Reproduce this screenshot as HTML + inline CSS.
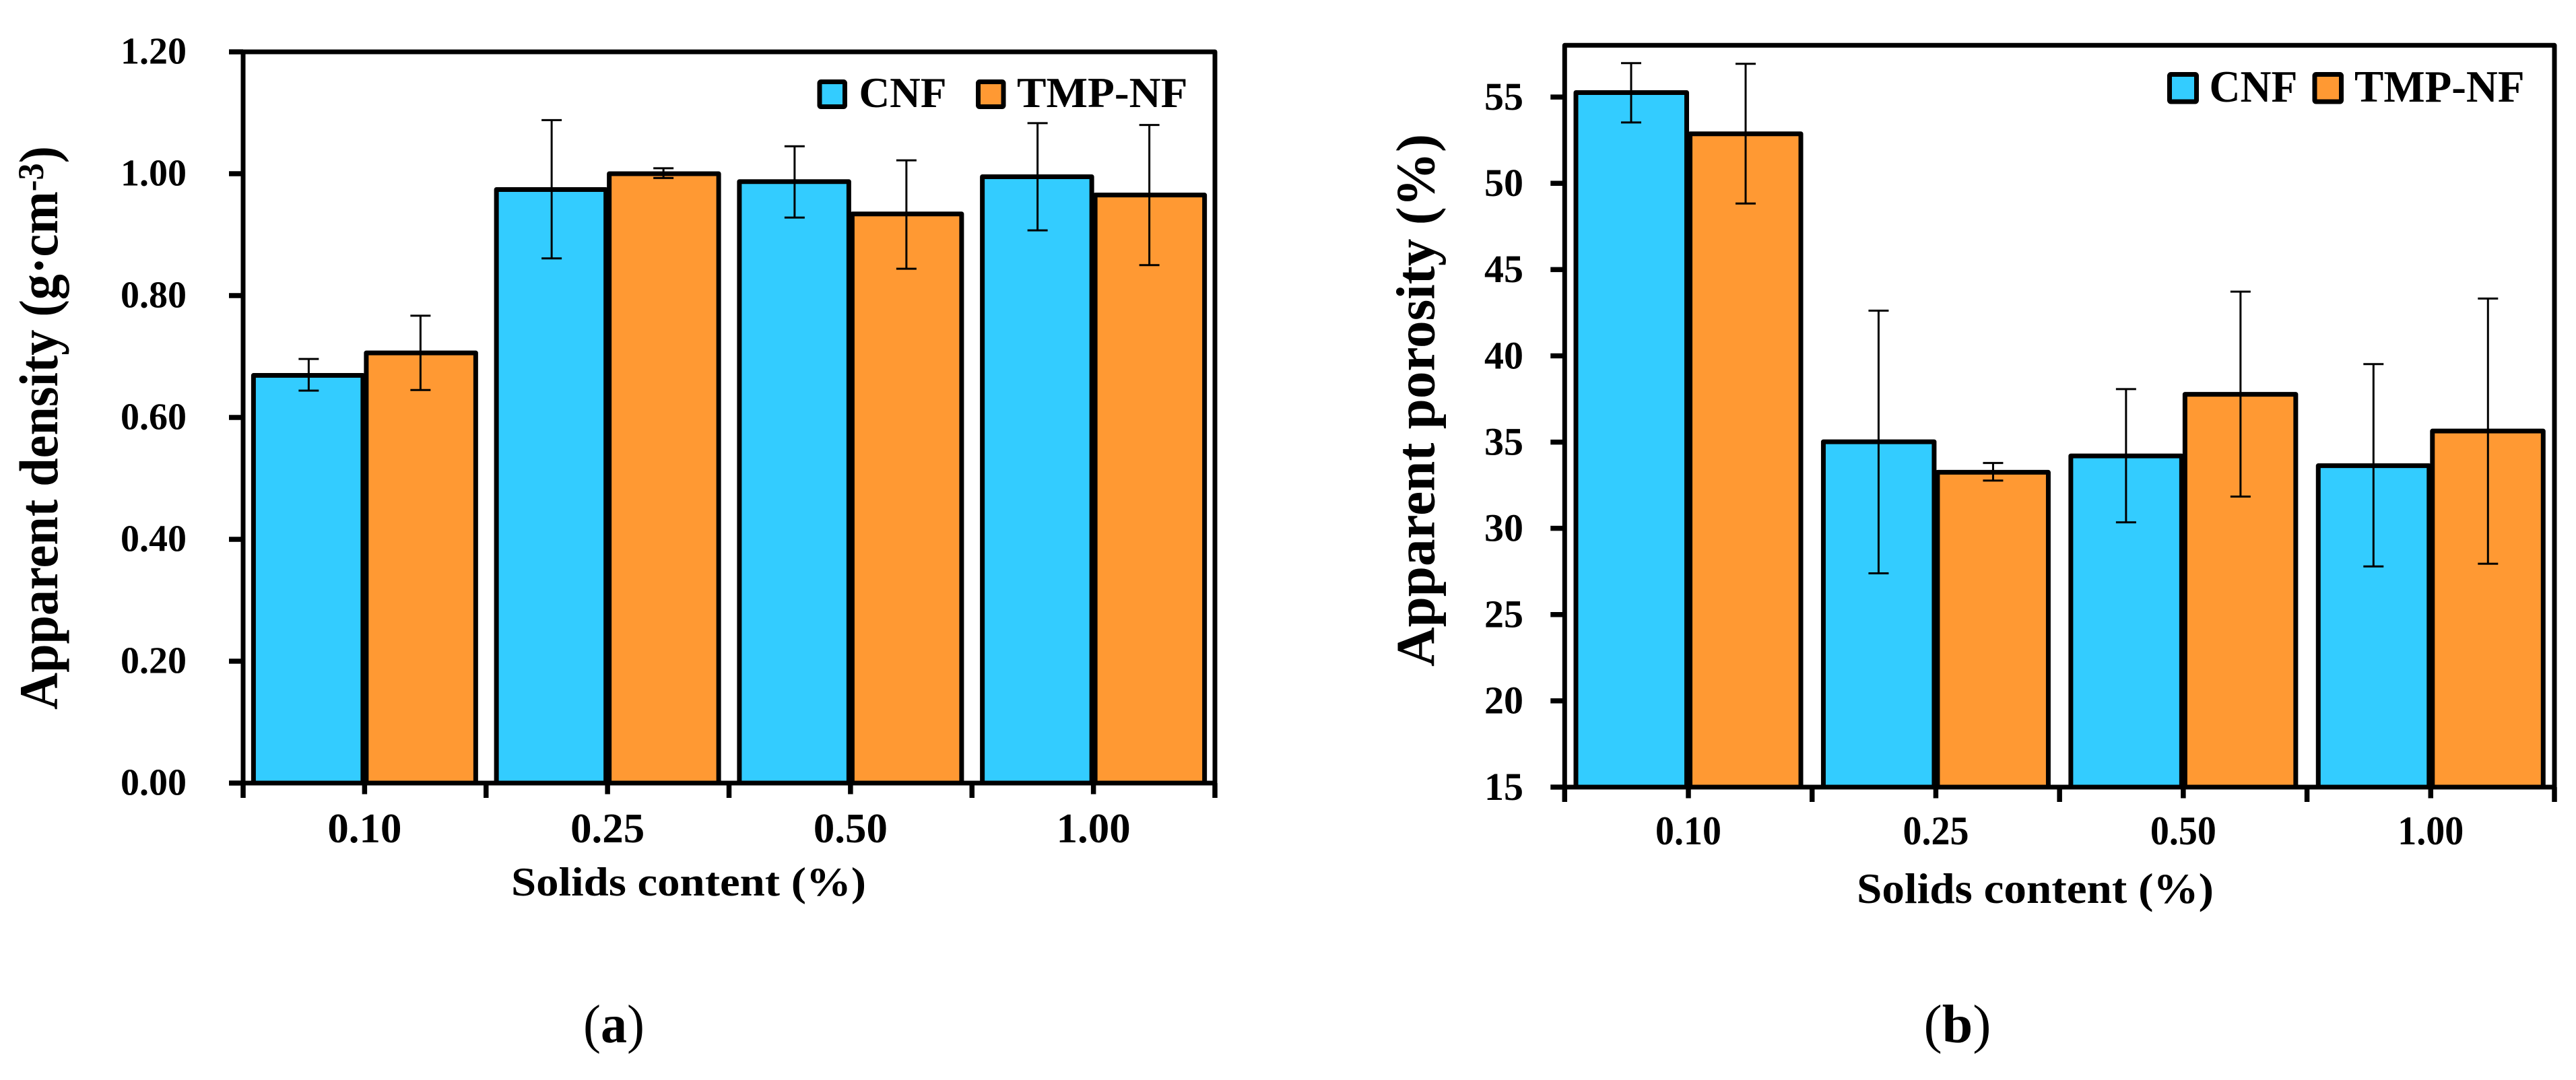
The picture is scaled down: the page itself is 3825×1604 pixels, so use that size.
<!DOCTYPE html>
<html lang="en">
<head>
<meta charset="utf-8">
<title>Apparent density and porosity vs solids content</title>
<style>
  html, body { margin: 0; padding: 0; background: #fff; }
  svg { display: block; }
  text { font-family: "Liberation Serif", serif; font-weight: bold; fill: #000; }
  .caption-paren { font-weight: normal; }
</style>
</head>
<body>
<svg id="figure" xmlns="http://www.w3.org/2000/svg" width="3825" height="1604" viewBox="0 0 3825 1604">
  <rect x="0" y="0" width="3825" height="1604" fill="#ffffff"/>

  <g id="panel-a"></g>
  <g id="panel-b"></g>

  <text transform="translate(85,1054) rotate(-90)" font-size="82" textLength="837" lengthAdjust="spacingAndGlyphs">Apparent density (g·cm<tspan font-size="54" dy="-21">-3</tspan><tspan dy="21">)</tspan></text>
  <text x="759" y="1330" font-size="60" textLength="527" lengthAdjust="spacingAndGlyphs">Solids content (%)</text>
  <text x="866" y="1548" font-size="80" textLength="91" lengthAdjust="spacingAndGlyphs"><tspan class="caption-paren">(</tspan>a<tspan class="caption-paren">)</tspan></text>

  <g>
    <rect x="1217" y="121.5" width="37.5" height="37" rx="2" fill="#33CCFF" stroke="#000" stroke-width="7" stroke-linejoin="round"/>
    <text x="1275.5" y="159" font-size="63" textLength="130" lengthAdjust="spacingAndGlyphs">CNF</text>
    <rect x="1452.5" y="121.5" width="37.5" height="37" rx="2" fill="#FF9933" stroke="#000" stroke-width="7" stroke-linejoin="round"/>
    <text x="1510" y="159" font-size="63" textLength="253.5" lengthAdjust="spacingAndGlyphs">TMP-NF</text>
  </g>

  <text transform="translate(2129.5,990) rotate(-90)" font-size="82" textLength="791" lengthAdjust="spacingAndGlyphs">Apparent porosity (%)</text>
  <text x="2757" y="1341" font-size="63" textLength="530" lengthAdjust="spacingAndGlyphs">Solids content (%)</text>
  <text x="2856.5" y="1548" font-size="80" textLength="100" lengthAdjust="spacingAndGlyphs"><tspan class="caption-paren">(</tspan>b<tspan class="caption-paren">)</tspan></text>

  <g>
    <rect x="3221.5" y="110.5" width="40" height="40.5" rx="2" fill="#33CCFF" stroke="#000" stroke-width="7" stroke-linejoin="round"/>
    <text x="3280.5" y="151" font-size="67" textLength="131" lengthAdjust="spacingAndGlyphs">CNF</text>
    <rect x="3437" y="110.5" width="39.5" height="40.5" rx="2" fill="#FF9933" stroke="#000" stroke-width="7" stroke-linejoin="round"/>
    <text x="3496" y="151" font-size="67" textLength="252.5" lengthAdjust="spacingAndGlyphs">TMP-NF</text>
  </g>
</svg>

<script>
// Shared categories
const categories = ['0.10', '0.25', '0.50', '1.00'];

// Panel (a): apparent density
const densityTickLabels = ['0.00', '0.20', '0.40', '0.60', '0.80', '1.00', '1.20'];
const densityCnf = [0.669, 0.974, 0.987, 0.995];
const densityTmp = [0.706, 1.000, 0.934, 0.965];
const densityCnfHigh = [0.696, 1.088, 1.045, 1.083];
const densityCnfLow = [0.644, 0.861, 0.928, 0.907];
const densityTmpHigh = [0.767, 1.009, 1.022, 1.080];
const densityTmpLow = [0.645, 0.993, 0.844, 0.850];

// Panel (b): apparent porosity
const porosityTickLabels = ['15', '20', '25', '30', '35', '40', '45', '50', '55'];
const porosityCnf = [55.26, 35.02, 34.20, 33.63];
const porosityTmp = [52.87, 33.25, 37.77, 35.64];
const porosityCnfHigh = [56.97, 42.62, 38.07, 39.52];
const porosityCnfLow = [53.53, 27.39, 30.35, 27.79];
const porosityTmpHigh = [56.93, 33.79, 43.72, 43.32];
const porosityTmpLow = [48.83, 32.77, 31.84, 27.95];

const SVG_NS = 'http://www.w3.org/2000/svg';

function make(tag, attrs, parent) {
  const node = document.createElementNS(SVG_NS, tag);
  for (const key in attrs) node.setAttribute(key, attrs[key]);
  parent.appendChild(node);
  return node;
}

function drawPanel(root, cfg) {
  const yScale = v => cfg.bottom - (v - cfg.yMin) / (cfg.yMax - cfg.yMin) * (cfg.bottom - cfg.top);
  const groupW = (cfg.right - cfg.left) / cfg.categories.length;
  const center = i => cfg.left + groupW * (i + 0.5);

  // bars
  const series = [
    { key: 'cnf', values: cfg.cnf, high: cfg.cnfHigh, low: cfg.cnfLow, color: '#33CCFF', side: -1 },
    { key: 'tmp-nf', values: cfg.tmp, high: cfg.tmpHigh, low: cfg.tmpLow, color: '#FF9933', side: 1 }
  ];
  series.forEach(s => {
    s.values.forEach((v, i) => {
      const inner = center(i) + s.side * 2.5;
      const outer = center(i) + s.side * (2.5 + cfg.barW);
      const el = make('rect', {
        x: Math.min(inner, outer),
        y: yScale(v),
        width: cfg.barW,
        height: cfg.bottom - yScale(v),
        fill: s.color,
        stroke: '#000',
        'stroke-width': 7,
        'stroke-linejoin': 'round'
      }, root);
      
      
    });
  });

  // frame
  const frame = make('rect', {
    x: cfg.left, y: cfg.top,
    width: cfg.right - cfg.left, height: cfg.bottom - cfg.top,
    fill: 'none', stroke: '#000', 'stroke-width': 7, 'stroke-linejoin': 'round'
  }, root);
  
  

  // error bars
  series.forEach(s => {
    s.values.forEach((v, i) => {
      const x = center(i) + s.side * cfg.errOffset;
      const yHi = yScale(s.high[i]);
      const yLo = yScale(s.low[i]);
      const g = make('g', { stroke: '#000', 'stroke-width': 3, fill: 'none' }, root);
      
      
      make('line', { x1: x, x2: x, y1: yHi, y2: yLo }, g);
      make('line', { x1: x - 15, x2: x + 15, y1: yHi, y2: yHi }, g);
      make('line', { x1: x - 15, x2: x + 15, y1: yLo, y2: yLo }, g);
    });
  });

  // y ticks
  cfg.yTicks.forEach(label => {
    const y = yScale(parseFloat(label));
    const tick = make('line', {
      x1: cfg.left - 21, x2: cfg.left, y1: y, y2: y,
      stroke: '#000', 'stroke-width': 7.5
    }, root);
    
    
    const txt = make('text', {
      x: cfg.yLabelX, y: y + cfg.yLabelDy,
      'font-size': cfg.yLabelSize, 'text-anchor': 'end'
    }, root);
    txt.textContent = label;
    
    
  });

  // x ticks: long at group boundaries, short at group centres
  for (let i = 0; i <= cfg.categories.length; i++) {
    const x = cfg.left + groupW * i;
    const tick = make('line', {
      x1: x, x2: x, y1: cfg.bottom, y2: cfg.bottom + 22,
      stroke: '#000', 'stroke-width': 7.5
    }, root);
    
    
  }
  cfg.categories.forEach((cat, i) => {
    const tick = make('line', {
      x1: center(i), x2: center(i), y1: cfg.bottom, y2: cfg.bottom + 16.5,
      stroke: '#000', 'stroke-width': 7.5
    }, root);
    
    
    const txt = make('text', {
      x: center(i), y: cfg.xLabelY,
      'font-size': cfg.xLabelSize, 'text-anchor': 'middle',
      textLength: cfg.xLabelW, lengthAdjust: 'spacingAndGlyphs'
    }, root);
    txt.textContent = cat;
    
    
  });
}

drawPanel(document.getElementById('panel-a'), {
  categories: categories,
  cnf: densityCnf, tmp: densityTmp,
  cnfHigh: densityCnfHigh, cnfLow: densityCnfLow,
  tmpHigh: densityTmpHigh, tmpLow: densityTmpLow,
  yTicks: densityTickLabels,
  yMin: 0, yMax: 1.2,
  left: 361, right: 1804, top: 77, bottom: 1163,
  barW: 162.5, errOffset: 83,
  yLabelX: 277, yLabelDy: 17.5, yLabelSize: 56,
  xLabelY: 1251, xLabelSize: 62, xLabelW: 110
});

drawPanel(document.getElementById('panel-b'), {
  categories: categories,
  cnf: porosityCnf, tmp: porosityTmp,
  cnfHigh: porosityCnfHigh, cnfLow: porosityCnfLow,
  tmpHigh: porosityTmpHigh, tmpLow: porosityTmpLow,
  yTicks: porosityTickLabels,
  yMin: 15, yMax: 58,
  left: 2323.3, right: 3793, top: 67.3, bottom: 1169,
  barW: 164.5, errOffset: 85,
  yLabelX: 2262, yLabelDy: 18.8, yLabelSize: 58,
  xLabelY: 1254, xLabelSize: 60, xLabelW: 98
});
</script>
</body>
</html>
